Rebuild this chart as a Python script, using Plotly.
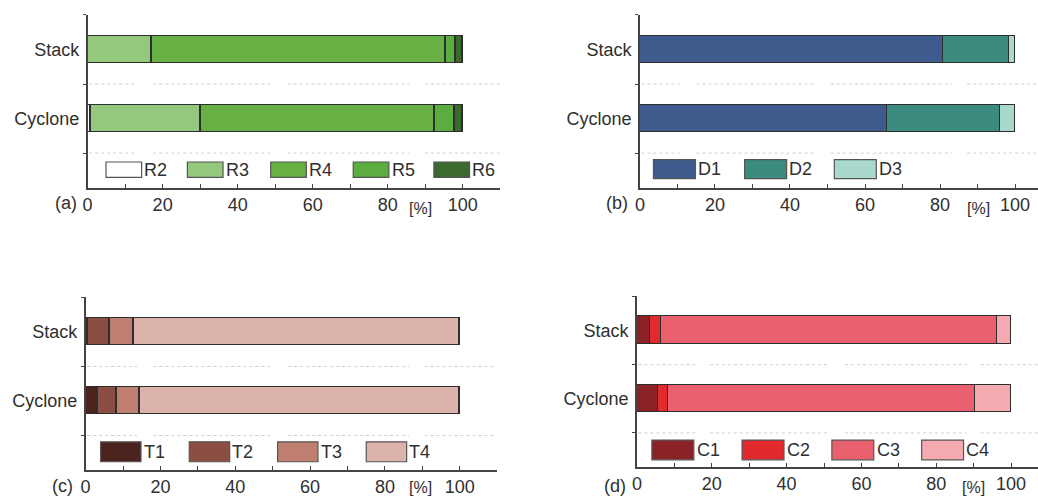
import plotly.graph_objects as go

# ---- data (percent shares of each fraction) ----
categories = ["Stack", "Cyclone"]

r_names = ["R2", "R3", "R4", "R5", "R6"]
r_stack = [0.0, 17.0, 78.3, 2.8, 1.9]
r_cyclone = [0.7, 29.5, 62.2, 5.4, 2.2]

d_names = ["D1", "D2", "D3"]
d_stack = [80.8, 17.5, 1.7]
d_cyclone = [65.7, 30.3, 4.0]

t_names = ["T1", "T2", "T3", "T4"]
t_stack = [0.6, 5.8, 6.4, 87.2]
t_cyclone = [3.1, 5.3, 5.9, 85.7]

c_names = ["C1", "C2", "C3", "C4"]
c_stack = [3.6, 2.9, 89.7, 3.8]
c_cyclone = [5.5, 2.9, 82.0, 9.6]

x_ticks = [0, 20, 40, 60, 80, 100]

W, H = 1038, 497
FONT = "Liberation Sans, Arial, sans-serif"
TXT = "#2f2f2f"
EDGE = "#2e2e2e"
FS = 18

panels = [
    dict(tag="(a)", names=r_names, stack=r_stack, cyclone=r_cyclone,
         colors=["#ffffff", "#94c97d", "#67b044", "#5aad3e", "#3b6a2e"],
         px=(83, 497.7), py=(15, 188), xmax=110,
         leg_x=[4.9, 26.6, 48.8, 70.8, 92.3], leg_w=9.5, leg_y=(0.149, 0.371),
         gaps=[(13.3, 17.5), (49.6, 53.3), (85.7, 89.9)],
         tag_xy=(61, 203), pct_xy=(418, 209)),
    dict(tag="(b)", names=d_names, stack=d_stack, cyclone=d_cyclone,
         colors=["#3e5b8e", "#3b8c7f", "#a9d9cd"],
         px=(638, 1038), py=(15, 188), xmax=106.1,
         leg_x=[3.6, 27.9, 51.8], leg_w=11.2, leg_y=(0.13, 0.405),
         gaps=[(10.6, 15.1), (47.2, 50.9), (83.2, 87.2)],
         tag_xy=(615, 203), pct_xy=(978, 209)),
    dict(tag="(c)", names=t_names, stack=t_stack, cyclone=t_cyclone,
         colors=["#4b2420", "#8b4e43", "#bf7f70", "#dcb3aa"],
         px=(81, 494.6), py=(298, 471), xmax=110,
         leg_x=[4.0, 27.7, 51.3, 75.0], leg_w=10.8, leg_y=(0.12, 0.409),
         gaps=[(13.7, 18.1), (50.3, 54.1), (86.4, 90.6)],
         tag_xy=(58, 487), pct_xy=(418, 488)),
    dict(tag="(d)", names=c_names, stack=c_stack, cyclone=c_cyclone,
         colors=["#8a2228", "#e02a2e", "#e9606e", "#f5aab2"],
         px=(635, 1038), py=(297, 468), xmax=107.2,
         leg_x=[4.0, 28.1, 52.1, 76.1], leg_w=11.2, leg_y=(0.106, 0.395),
         gaps=[(15.7, 19.5), (51.4, 55.6), (88.2, 91.9)],
         tag_xy=(613, 487), pct_xy=(973, 488)),
]

y_pos = {"Stack": 2, "Cyclone": 1}

fig = go.Figure()
shapes, annotations = [], []
layout_axes = {}

for i, p in enumerate(panels, start=1):
    xa = "x" if i == 1 else f"x{i}"
    ya = "y" if i == 1 else f"y{i}"

    # stacked horizontal bars
    for k, name in enumerate(p["names"]):
        fig.add_trace(go.Bar(
            orientation="h",
            x=[p["stack"][k], p["cyclone"][k]],
            y=[y_pos[c] for c in categories],
            width=0.4,
            name=name,
            marker=dict(color=p["colors"][k], line=dict(color=EDGE, width=1.2)),
            xaxis=xa, yaxis=ya, showlegend=False,
            hovertemplate=name + ": %{x}%<extra></extra>",
        ))

    # dotted separators between rows
    for yv in (0.5, 1.5):
        edges = [0.4] + [g for pair in p["gaps"] for g in pair] + [p["xmax"]]
        for s in range(0, len(edges), 2):
            shapes.append(dict(type="line", xref=xa, yref=ya,
                               x0=edges[s], x1=edges[s + 1], y0=yv, y1=yv,
                               line=dict(color="#cfcfcf", width=1, dash="dot"),
                               layer="below"))

    # boxed legend inside the lower band
    for k, name in enumerate(p["names"]):
        x0 = p["leg_x"][k]
        shapes.append(dict(type="rect", xref=xa, yref=ya,
                           x0=x0, x1=x0 + p["leg_w"],
                           y0=p["leg_y"][0], y1=p["leg_y"][1],
                           fillcolor=p["colors"][k],
                           line=dict(color="#555555", width=1.2)))
        annotations.append(dict(xref=xa, yref=ya, x=x0 + p["leg_w"] + 0.2,
                                y=sum(p["leg_y"]) / 2, text=name,
                                xanchor="left", yanchor="middle",
                                showarrow=False,
                                font=dict(family=FONT, size=FS, color=TXT)))

    # panel tag and unit
    annotations.append(dict(xref="paper", yref="paper",
                            x=p["tag_xy"][0] / W, y=1 - p["tag_xy"][1] / H,
                            text=p["tag"], showarrow=False,
                            xanchor="center", yanchor="middle",
                            font=dict(family=FONT, size=FS, color=TXT)))
    annotations.append(dict(xref="paper", yref="paper",
                            x=p["pct_xy"][0] / W, y=1 - p["pct_xy"][1] / H,
                            text="[%]", showarrow=False,
                            xanchor="center", yanchor="middle",
                            font=dict(family=FONT, size=16, color=TXT)))

    layout_axes["xaxis" if i == 1 else f"xaxis{i}"] = dict(
        domain=[p["px"][0] / W, min(p["px"][1] / W, 1.0)],
        range=[0, p["xmax"]], anchor=ya,
        tickvals=x_ticks, ticks="inside", ticklen=4, tickwidth=1.2,
        tickcolor="#444444",
        minor=dict(dtick=10, tick0=0, ticks="inside", ticklen=4,
                   tickwidth=1.2, tickcolor="#444444"),
        showline=True, linecolor="#444444", linewidth=1.5,
        showgrid=False, zeroline=False, fixedrange=True,
        tickfont=dict(family=FONT, size=FS, color=TXT),
    )
    layout_axes["yaxis" if i == 1 else f"yaxis{i}"] = dict(
        domain=[1 - p["py"][1] / H, 1 - p["py"][0] / H],
        range=[0, 2.5], anchor=xa,
        tickvals=[y_pos[c] for c in categories], ticktext=categories,
        ticks="", ticklabelstandoff=3,
        minor=dict(tickvals=[0.5, 1.5, 2.5], ticks="outside", ticklen=3,
                   tickwidth=1.2, tickcolor="#444444"),
        showline=True, linecolor="#444444", linewidth=1.5,
        showgrid=False, zeroline=False, fixedrange=True,
        tickfont=dict(family=FONT, size=FS, color=TXT),
    )

fig.update_layout(
    width=W, height=H,
    margin=dict(l=0, r=0, t=0, b=0),
    paper_bgcolor="white", plot_bgcolor="white",
    barmode="stack", bargap=0,
    shapes=shapes, annotations=annotations,
    font=dict(family=FONT, color=TXT),
    **layout_axes,
)

fig.write_html("out.html")
